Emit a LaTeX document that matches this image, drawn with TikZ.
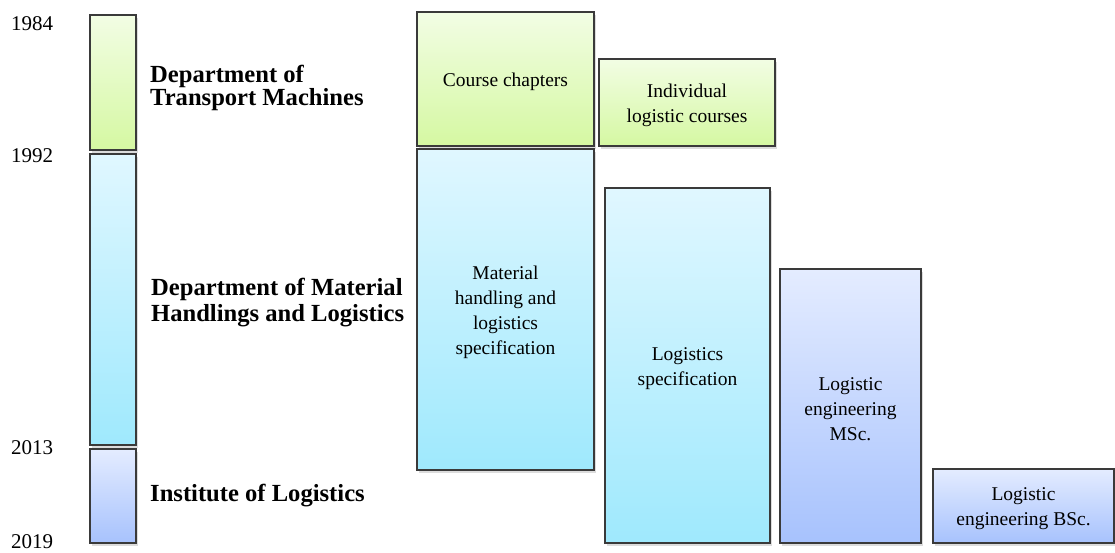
\documentclass[tikz,border=0pt]{standalone}
\usepackage{fontspec}
\setmainfont{Liberation Serif}
\usetikzlibrary{shadows}
\definecolor{bordc}{HTML}{3A3A3A}
\definecolor{gtop}{HTML}{F2FDE4}
\definecolor{gbot}{HTML}{D5F8A2}
\definecolor{ctop}{HTML}{E0F7FF}
\definecolor{cbot}{HTML}{9FE9FD}
\definecolor{ltop}{HTML}{E4ECFF}
\definecolor{lbot}{HTML}{A7C2FD}
\begin{document}
\begin{tikzpicture}[x=1pt,y=-1pt,
  box/.style={draw=bordc, line width=1.1pt, inner sep=0pt,
    drop shadow={shadow xshift=2pt, shadow yshift=-2.5pt, opacity=0.28}},
  greenbox/.style={box, top color=gtop, bottom color=gbot},
  cyanbox/.style={box, top color=ctop, bottom color=cbot},
  lavbox/.style={box, top color=ltop, bottom color=lbot},
  boxtext/.style={inner sep=0pt, align=center, font=\fontsize{19.5}{25}\selectfont},
  year/.style={anchor=west, inner sep=0pt, font=\fontsize{21}{21}\selectfont},
  dept/.style={anchor=west, inner sep=0pt, align=left, font=\fontsize{24.6}{24}\selectfont\bfseries}]
\useasboundingbox (0,0) rectangle (1115,552);
% timeline bars
\node[greenbox, minimum width=46pt, minimum height=135pt] (bar1) at (113,82.5) {};
\node[cyanbox, minimum width=46pt, minimum height=291pt] (bar2) at (113,299.5) {};
\node[lavbox, minimum width=46pt, minimum height=94pt] (bar3) at (113,496) {};
% years
\node[year] (y1984) at (11,23.5) {1984};
\node[year] (y1992) at (11,155.5) {1992};
\node[year] (y2013) at (11,447.5) {2013};
\node[year] (y2019) at (11,541.5) {2019};
% department labels
\node[dept, font=\fontsize{24.6}{23}\selectfont\bfseries] (d1) at (150,87.5) {Department of\\Transport Machines};
\node[dept, font=\fontsize{24.6}{26}\selectfont\bfseries] (d2) at (151,303) {Department of Material\\Handlings and Logistics};
\node[dept] (d3) at (150,496) {Institute of Logistics};
% course boxes
\node[greenbox, minimum width=177pt, minimum height=134pt] (cc) at (505.5,79) {};
\node[greenbox, minimum width=176pt, minimum height=87pt] (ilc) at (687,102.5) {};
\node[cyanbox, minimum width=177pt, minimum height=321pt] (mh) at (505.5,309.5) {};
\node[cyanbox, minimum width=165pt, minimum height=355pt] (ls) at (687.5,365.5) {};
\node[lavbox, minimum width=141pt, minimum height=274pt] (msc) at (850.5,406) {};
\node[lavbox, minimum width=181pt, minimum height=74pt] (bsc) at (1023.5,506) {};
% box texts
\node[boxtext] (tcc) at ([yshift=-3pt]cc.center) {Course chapters};
\node[boxtext] (tilc) at ([yshift=-3pt]ilc.center) {Individual\\logistic courses};
\node[boxtext] (tmh) at ([yshift=-3pt]mh.center) {Material\\handling and\\logistics\\specification};
\node[boxtext] (tls) at ([yshift=-3pt]ls.center) {Logistics\\specification};
\node[boxtext] (tmsc) at ([yshift=-3pt]msc.center) {Logistic\\engineering\\MSc.};
\node[boxtext] (tbsc) at ([yshift=-3pt]bsc.center) {Logistic\\engineering BSc.};
\end{tikzpicture}
\end{document}
